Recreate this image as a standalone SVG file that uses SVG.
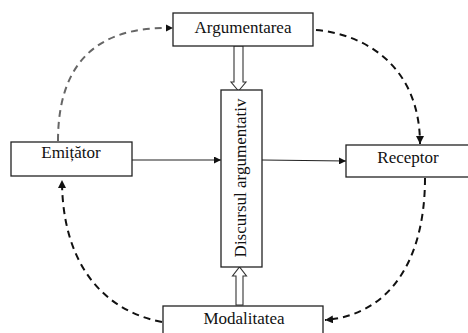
<svg xmlns="http://www.w3.org/2000/svg" width="468" height="333" viewBox="0 0 468 333">
<defs>
<style>
.box{fill:#fff;stroke:#222;stroke-width:1.3}
.lbl{font-size:17px;fill:#111;text-anchor:middle}
.solid{fill:none;stroke:#222;stroke-width:1.2}
.dash{fill:none;stroke:#111;stroke-width:2;stroke-dasharray:7,5}
.dashg{fill:none;stroke:#666;stroke-width:2;stroke-dasharray:7,5}
.hollow{fill:#fff;stroke:#333;stroke-width:1.1}
</style>
<marker id="ah" viewBox="0 0 10 10" refX="10" refY="5" markerWidth="7" markerHeight="7" markerUnits="userSpaceOnUse" orient="auto"><path d="M0,0 L10,5 L0,10 Z" fill="#111"/></marker>
<marker id="ahd" viewBox="0 0 10 10" refX="10" refY="5" markerWidth="8" markerHeight="8" markerUnits="userSpaceOnUse" orient="auto"><path d="M0,0 L10,5 L0,10 Z" fill="#111"/></marker>
</defs>
<rect width="468" height="333" fill="#fff"/>
<g id="connectors">
<line class="solid" x1="132" y1="160" x2="221" y2="160" marker-end="url(#ah)"/>
<line class="solid" x1="262" y1="160" x2="346" y2="161" marker-end="url(#ah)"/>
<path class="dashg" d="M58,141 C58,60 100,28 166,28"/>
<path d="M166,24.5 L173,28 L166,31.5 Z" fill="#111"/>
<path class="dash" d="M316,30 C370,35 420,70 420,144" marker-end="url(#ahd)"/>
<path class="dash" d="M425,178 C425,260 390,315 325,320" marker-end="url(#ahd)"/>
<path class="dash" d="M162,322 C100,310 62,260 62,180" marker-end="url(#ahd)"/>
<polygon class="hollow" points="234,46 243,46 243,82 246,82 238.5,91 231,82 234,82"/>
<polygon class="hollow" points="236,305 243,305 243,276 246.5,276 239.5,267 232.5,276 236,276"/>
</g>
<g id="argumentarea"><rect class="box" x="173" y="13" width="140" height="33"/><text class="lbl" font-family="'Liberation Serif', 'DejaVu Serif', serif" x="243" y="33">Argumentarea</text></g>
<g id="discurs"><rect class="box" x="221" y="90" width="41" height="177" stroke="#555"/><text class="lbl" font-family="'Liberation Serif', 'DejaVu Serif', serif" transform="translate(246,178) rotate(-90)" x="0" y="0">Discursul argumentativ</text></g>
<g id="emitator"><rect class="box" x="11" y="142" width="121" height="34"/><text class="lbl" font-family="'Liberation Serif', 'DejaVu Serif', serif" x="71" y="158">Emițător</text></g>
<g id="receptor"><rect class="box" x="346" y="145" width="130" height="32"/><text class="lbl" font-family="'Liberation Serif', 'DejaVu Serif', serif" x="408" y="163">Receptor</text></g>
<g id="modalitatea"><rect class="box" x="163" y="306" width="160" height="40"/><text class="lbl" font-family="'Liberation Serif', 'DejaVu Serif', serif" x="244" y="324">Modalitatea</text></g>
</svg>
